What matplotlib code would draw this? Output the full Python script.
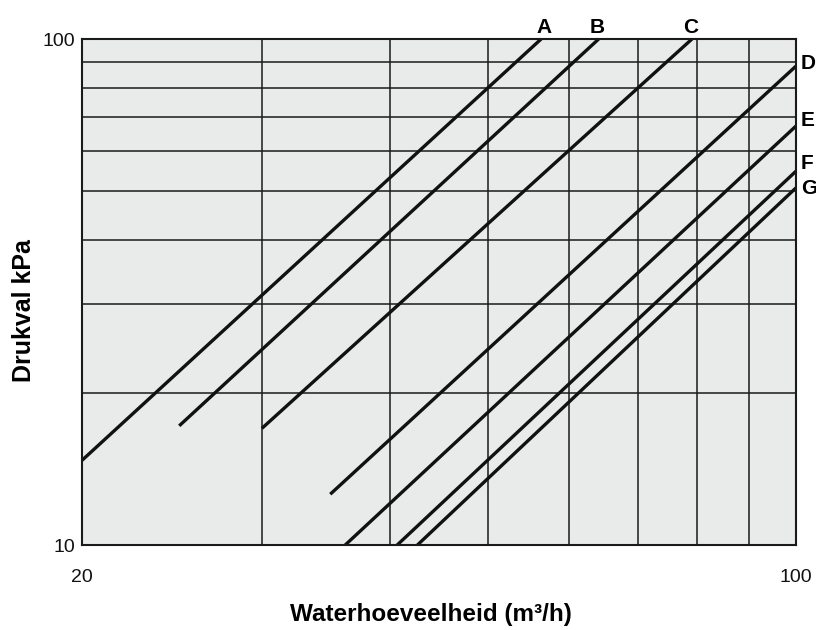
import matplotlib
matplotlib.use("Agg")
import matplotlib.pyplot as plt

plt.rcParams['font.family'] = ['Liberation Sans', 'DejaVu Sans']

names = ["A", "B", "C", "D", "E", "F", "G"]
flow_start = [20.0, 24.9, 30.0, 35.0, 36.2, 40.7, 42.6]
flow_end = [56.3, 64.1, 79.1, 100.0, 100.0, 100.0, 100.0]
dp_start = [14.7, 17.2, 17.0, 12.6, 10.0, 10.0, 10.0]
dp_end = [100.0, 100.0, 100.0, 88.4, 67.3, 54.8, 50.8]

x_grid = [30, 40, 50, 60, 70, 80, 90]
y_grid = [20, 30, 40, 50, 60, 70, 80, 90]
x_ticks = [20, 100]
y_ticks = [10, 100]
x_ticklabels = ["20", "100"]
y_ticklabels = ["10", "100"]

fig = plt.figure(figsize=(8.16, 6.3), dpi=100)
ax = fig.add_axes([82/816, 1-545/630, (796-82)/816, (545-39)/630])
ax.set_facecolor('#e9eaea')
ax.set_xscale('log')
ax.set_yscale('log')
ax.set_xlim(20, 100)
ax.set_ylim(10, 100)

for xv in x_grid:
    ax.axvline(xv, color='#1a1a1a', lw=1.1, zorder=1)
for yv in y_grid:
    ax.axhline(yv, color='#1a1a1a', lw=1.1, zorder=1)

for n, x0, x1, y0, y1 in zip(names, flow_start, flow_end, dp_start, dp_end):
    ax.plot([x0, x1], [y0, y1], color='#111111', lw=2.4, solid_capstyle='butt', zorder=3, clip_on=False)

# labels at line ends
top_offsets = {"A": (2, 4.5), "B": (-1, 4.5), "C": (-1, 4.5)}
right_offsets = {"D": (3.5, 2), "E": (3.5, 4.3), "F": (3.5, 5.8), "G": (3.5, -0.5)}
for n, x1, y1 in zip(names, flow_end, dp_end):
    if n in top_offsets:
        ax.annotate(n, (x1, y1), xytext=top_offsets[n], textcoords='offset points',
                    ha='center', va='baseline', fontsize=15, fontweight='bold', annotation_clip=False)
    else:
        ax.annotate(n, (x1, y1), xytext=right_offsets[n], textcoords='offset points',
                    ha='left', va='center', fontsize=15, fontweight='bold', annotation_clip=False)

ax.set_xticks(x_ticks)
ax.set_xticklabels(x_ticklabels)
ax.set_yticks(y_ticks)
ax.set_yticklabels(y_ticklabels)
ax.minorticks_off()
ax.tick_params(axis='x', length=0, pad=17, labelsize=14, colors='#111111')
ax.tick_params(axis='y', length=0, pad=5, labelsize=14, colors='#111111')

for s in ax.spines.values():
    s.set_linewidth(1.5)
    s.set_color('#1a1a1a')
    s.set_zorder(4)

ax.set_xlabel('Waterhoeveelheid (m³/h)', fontsize=17.5, fontweight='bold', va='center')
ax.xaxis.set_label_coords((431-82)/714, (545-614)/506)
ax.set_ylabel('Drukval kPa', fontsize=18, fontweight='bold', va='center')
ax.yaxis.set_label_coords((24-82)/714, (545-311)/506)

fig.savefig('out.png', dpi=100)
